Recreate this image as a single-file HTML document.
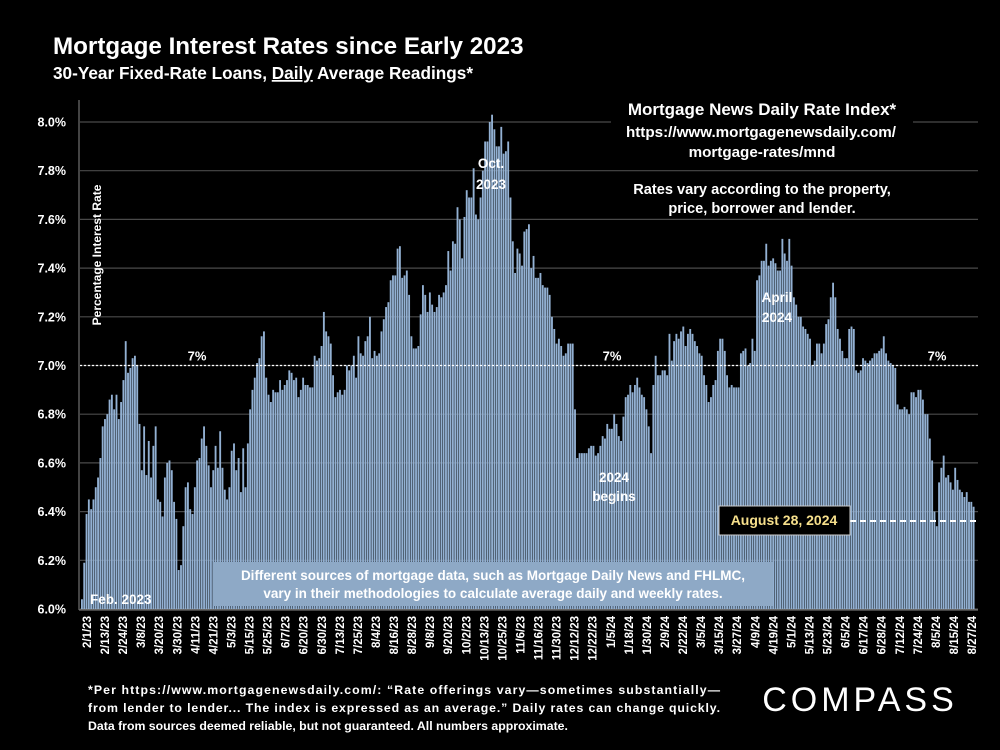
<!DOCTYPE html>
<html><head><meta charset="utf-8"><style>
html,body{margin:0;padding:0;background:#000;}
svg{display:block;font-family:"Liberation Sans",Arial,sans-serif;}
</style></head><body>
<svg id="chart" width="1000" height="750" viewBox="0 0 1000 750" xmlns="http://www.w3.org/2000/svg">
<rect width="1000" height="750" fill="#000"/>
<text x="53" y="54" fill="#fff" font-size="24.2" font-weight="bold">Mortgage Interest Rates since Early 2023</text>
<text x="53" y="79" fill="#fff" font-size="17.2" font-weight="bold">30-Year Fixed-Rate Loans, <tspan text-decoration="underline">Daily</tspan> Average Readings*</text>
<g id="grid"></g>
<g id="yticks"></g>
<g id="bars"></g>
<g id="xticks"></g>
<line x1="79" y1="100" x2="79" y2="610" stroke="#888" stroke-width="1"/>
<line x1="79" y1="610" x2="978" y2="610" stroke="#888" stroke-width="1"/>
<line id="sevenline" x1="80" x2="978" stroke="#fff" stroke-width="1.2" stroke-dasharray="2,2"/>
<text id="s1" x="197" fill="#fff" font-size="13" font-weight="bold" text-anchor="middle">7%</text>
<text id="s2" x="612" fill="#fff" font-size="13" font-weight="bold" text-anchor="middle">7%</text>
<text id="s3" x="937" fill="#fff" font-size="13" font-weight="bold" text-anchor="middle">7%</text>
<text transform="translate(101,255) rotate(-90)" fill="#fff" font-size="12" font-weight="bold" text-anchor="middle">Percentage Interest Rate</text>
<rect x="611" y="100" width="302" height="26" fill="#000"/>
<g fill="#fff" font-weight="bold" text-anchor="middle">
<text x="762" y="115" font-size="17">Mortgage News Daily Rate Index*</text>
<text x="761" y="137" font-size="15.2">https://www.mortgagenewsdaily.com/</text>
<text x="762" y="157" font-size="15.2">mortgage-rates/mnd</text>
<text x="762" y="194" font-size="14.6">Rates vary according to the property,</text>
<text x="762" y="213" font-size="14.6">price, borrower and lender.</text>
</g>
<g fill="#fff" font-weight="bold" font-size="13.5" text-anchor="middle">
<text x="491" y="168">Oct.</text><text x="491" y="189">2023</text>
<text x="777" y="302">April</text><text x="777" y="322">2024</text>
<text x="614" y="482">2024</text><text x="614" y="501">begins</text>
<text x="90" y="604" text-anchor="start">Feb. 2023</text>
</g>
<rect x="213" y="562" width="560" height="44" fill="#8ea9c6"/>
<g fill="#fff" font-weight="bold" font-size="13.5" text-anchor="middle">
<text x="493" y="580">Different sources of mortgage data, such as Mortgage Daily News and FHLMC,</text>
<text x="493" y="598">vary in their methodologies to calculate average daily and weekly rates.</text>
</g>
<line x1="850" y1="521" x2="978" y2="521" stroke="#fff" stroke-width="2" stroke-dasharray="6,4"/>
<rect x="719" y="506" width="131" height="29" fill="#000" stroke="#ccc" stroke-width="1"/>
<text x="784" y="525" fill="#f7e08c" font-size="14" font-weight="bold" text-anchor="middle">August 28, 2024</text>
<g fill="#fff" font-weight="bold" font-size="12.3">
<text x="88" y="694" textLength="632" lengthAdjust="spacing">*Per https://www.mortgagenewsdaily.com/: “Rate offerings vary—sometimes substantially—</text>
<text x="88" y="712" textLength="632" lengthAdjust="spacing">from lender to lender... The index is expressed as an average.” Daily rates can change quickly.</text>
<text x="88" y="730">Data from sources deemed reliable, but not guaranteed. All numbers approximate.</text>
</g>
<text x="860" y="711" fill="#fff" font-size="34" text-anchor="middle" letter-spacing="4">COMPASS</text>
</svg>
<script>
const yTicks=[6.0,6.2,6.4,6.6,6.8,7.0,7.2,7.4,7.6,7.8,8.0];
const xLabels=["2/1/23","2/13/23","2/24/23","3/8/23","3/20/23","3/30/23","4/11/23","4/21/23","5/3/23","5/15/23","5/25/23","6/7/23","6/20/23","6/30/23","7/13/23","7/25/23","8/4/23","8/16/23","8/28/23","9/8/23","9/20/23","10/2/23","10/13/23","10/25/23","11/6/23","11/16/23","11/30/23","12/12/23","12/22/23","1/5/24","1/18/24","1/30/24","2/9/24","2/22/24","3/5/24","3/15/24","3/27/24","4/9/24","4/19/24","5/1/24","5/13/24","5/23/24","6/5/24","6/17/24","6/28/24","7/12/24","7/24/24","8/5/24","8/15/24","8/27/24"];
const rates2023a=[6.04,6.19,6.39,6.45,6.41,6.45,6.50,6.54,6.62,6.75,6.78,6.80,6.86,6.88,6.82,6.88,6.78,6.85,6.94,7.10,6.97,6.99,7.03,7.04,7.00,6.76,6.57,6.75,6.55,6.69,6.54,6.67,6.75,6.45,6.44,6.38,6.54,6.60,6.61,6.57,6.44,6.37,6.16,6.18,6.34,6.50,6.52,6.41,6.39,6.50,6.61,6.62,6.70,6.75,6.67,6.59,6.50,6.57,6.67,6.58,6.73,6.58,6.49,6.45,6.50,6.65,6.68,6.57,6.62,6.48,6.66,6.50,6.68];
const rates2023b=[6.82,6.90,6.95,7.01,7.03,7.12,7.14,6.95,6.88,6.85,6.90,6.89,6.89,6.94,6.90,6.92,6.94,6.98,6.97,6.94,6.95,6.87,6.90,6.95,6.92,6.92,6.91,6.91,7.04,7.02,7.03,7.08,7.22,7.14,7.12,7.09,6.96,6.87,6.89,6.90,6.88,6.90,7.00,6.98,7.00,7.04,6.95,7.12,7.05,7.04,7.10,7.12,7.20,7.03,7.06,7.04,7.05];
const rates2023c=[7.14,7.19,7.24,7.26,7.35,7.37,7.37,7.48,7.49,7.36,7.37,7.39,7.29,7.12,7.07,7.07,7.08,7.21,7.33,7.29,7.22,7.30,7.25,7.22,7.24,7.29,7.28,7.30,7.33,7.47,7.39,7.51,7.50,7.65,7.60,7.44,7.61,7.72,7.69,7.69,7.81,7.62,7.60,7.69,7.80,7.92,7.92,8.00,8.03,7.97,7.90,7.90,7.98,7.87,7.88,7.92,7.69,7.51,7.38,7.48,7.46,7.41,7.55,7.56,7.58,7.40,7.45,7.36,7.36,7.38,7.33,7.32,7.32,7.29,7.20,7.15,7.09,7.11];
const rates2024a=[7.08,7.04,7.05,7.09,7.09,7.09,6.82,6.62,6.64,6.64,6.64,6.64,6.66,6.67,6.67,6.63,6.64,6.67,6.71,6.70,6.76,6.74,6.74,6.80,6.76,6.71,6.69,6.79,6.87,6.88,6.92,6.89,6.92,6.95,6.91,6.88,6.87,6.82,6.75,6.64,6.92,7.04,6.96,6.96,6.98,6.98,6.96,7.13,7.02,7.10,7.13,7.11,7.14,7.16,7.08,7.13,7.15,7.13,7.10,7.08,7.05];
const rates2024b=[7.04,6.96,6.92,6.85,6.87,6.92,6.94,7.06,7.11,7.11,7.06,6.96,6.91,6.92,6.91,6.91,6.91,7.05,7.06,7.07,7.00,7.01,7.11,7.06,7.35,7.37,7.43,7.43,7.50,7.41,7.43,7.44,7.42,7.39,7.39,7.52,7.46,7.43,7.52,7.41,7.28,7.25,7.20,7.20,7.16,7.15,7.13,7.11,7.00,7.02,7.09,7.09,7.05,7.09,7.17,7.19,7.28,7.34,7.28,7.15];
const rates2024c=[7.11,7.06,7.03,7.03,7.15,7.16,7.15,6.98,6.97,6.98,7.03,7.02,7.01,7.02,7.03,7.05,7.05,7.06,7.07,7.12,7.05,7.02,7.01,7.00,6.99,6.84,6.82,6.82,6.83,6.82,6.80,6.89,6.89,6.87,6.90,6.90,6.86,6.80,6.80,6.70,6.61,6.40,6.34,6.52,6.58,6.63,6.54,6.55,6.52,6.49,6.58,6.53,6.49,6.48,6.46,6.48,6.44,6.44,6.42];
const rates=[].concat(rates2023a,rates2023b,rates2023c,rates2024a,rates2024b,rates2024c);

const NS="http://www.w3.org/2000/svg";
const X0=81, X1=975, Y0=609, PX_PER=243.5;
function yScale(v){return Y0-(v-6.0)*PX_PER/1.0;}
const step=(X1-X0)/rates.length;
function xScale(i){return X0+i*step;}
function mk(tag,attrs,parent){const e=document.createElementNS(NS,tag);for(const k in attrs)e.setAttribute(k,attrs[k]);parent.appendChild(e);return e;}

const grid=document.getElementById('grid'), yt=document.getElementById('yticks');
yTicks.forEach(v=>{
  const y=yScale(v);
  const l=mk('line',{x1:80,x2:978,y1:y,y2:y,stroke:'#4a4a4a','stroke-width':1.2},grid);
  
  
  const t=mk('text',{x:66,y:y+4.5,fill:'#fff','font-size':12.5,'font-weight':'bold','text-anchor':'end'},yt);
  t.textContent=v.toFixed(1)+'%';
  
  
});
const s7=yScale(7.0);
const sl=document.getElementById('sevenline'); sl.setAttribute('y1',s7); sl.setAttribute('y2',s7);
['s1','s2','s3'].forEach(id=>document.getElementById(id).setAttribute('y',s7-5));

const bars=document.getElementById('bars');
rates.forEach((v,i)=>{
  const y=yScale(v);
  const r=mk('rect',{x:xScale(i),y:y,width:Math.max(step-0.45,0.5),height:Y0-y,fill:'#93b1d3'},bars);
  
  
});

const xt=document.getElementById('xticks');
const lx0=87, lx1=972, lstep=(lx1-lx0)/(xLabels.length-1);
xLabels.forEach((s,i)=>{
  const x=lx0+i*lstep;
  const t=mk('text',{transform:'translate('+(x+4)+',616) rotate(-90)',fill:'#fff','font-size':11.5,'font-weight':'bold','text-anchor':'end'},xt);
  t.textContent=s;
  
  
});
</script>
</body></html>
